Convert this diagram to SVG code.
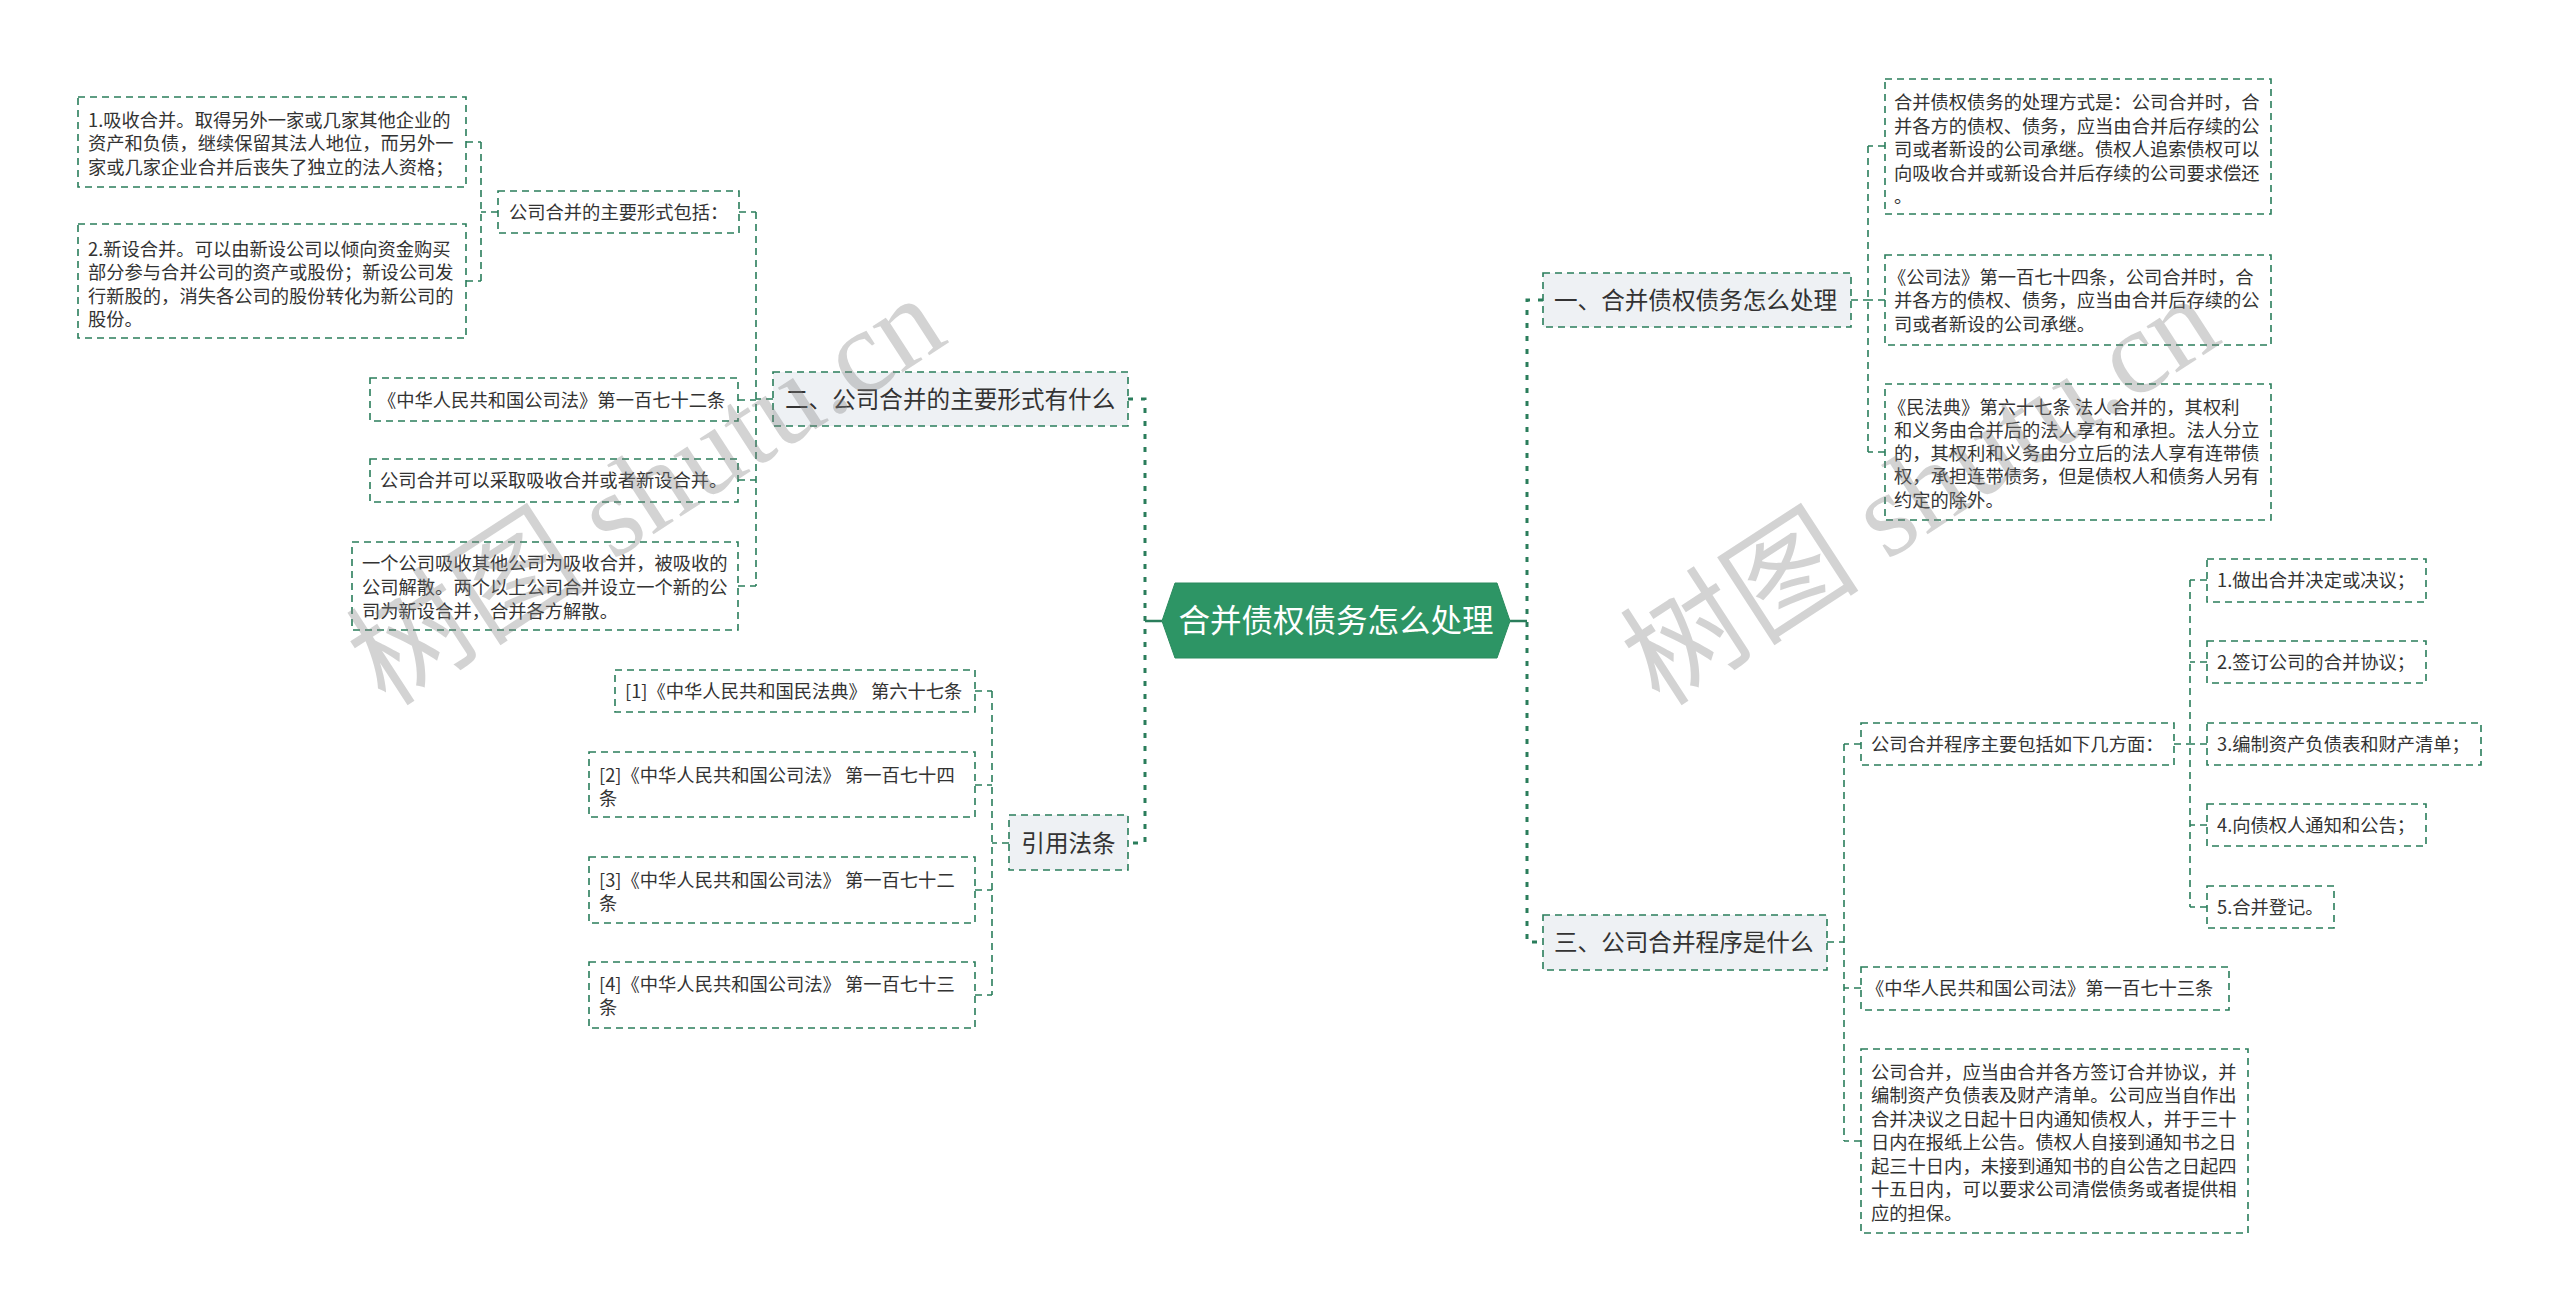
<svg xmlns="http://www.w3.org/2000/svg" width="2560" height="1312" viewBox="0 0 2560 1312">
<style>
.t{font-family:"Noto Sans CJK SC","Liberation Sans",sans-serif;fill:#333;font-size:18.3px}
.h{font-family:"Noto Sans CJK SC","Liberation Sans",sans-serif;fill:#333;font-size:23.6px}
.m{font-family:"Noto Sans CJK SC","Liberation Sans",sans-serif;fill:#fff;font-size:31.5px}
.leaf{fill:#fff;stroke:#2a7d5b;stroke-width:1.6;stroke-dasharray:7 5}
.lv1{fill:#eef1f4;stroke:#2a7d5b;stroke-width:1.6;stroke-dasharray:7 5}
.c{fill:none;stroke:#2a7d5b;stroke-width:1.6;stroke-dasharray:7 5}
.tr{fill:none;stroke:#2a7d5b;stroke-width:3;stroke-dasharray:5 8}
.wm{font-family:"Liberation Serif","Noto Sans CJK SC",serif;font-size:120px;fill:#808080;fill-opacity:0.35}
</style>
<rect width="2560" height="1312" fill="#fff"/>
<g id="connectors">
<path class="tr" d="M1128 399 H1145 V843 H1128"/>
<path d="M1145 621 H1162" stroke="#2a7d5b" stroke-width="2.5" fill="none"/>
<path class="tr" d="M1543 300 H1527 V942 H1543"/>
<path d="M1510 621 H1527" stroke="#2a7d5b" stroke-width="2.5" fill="none"/>
<path class="c" d="M773 399 H756 M756 212 V586 M739 212 H756 M738 400 H756 M738 480 H756 M738 586 H756"/>
<path class="c" d="M498 212 H481 M481 142 V281 M466 142 H481 M466 281 H481"/>
<path class="c" d="M1009 843 H992 M992 691 V995 M975 691 H992 M975 785 H992 M975 890 H992 M975 995 H992"/>
<path class="c" d="M1851 300 H1868 M1868 146 V452 M1885 146 H1868 M1885 300 H1868 M1885 452 H1868"/>
<path class="c" d="M1827 942 H1844 M1844 744 V1141 M1861 744 H1844 M1861 988 H1844 M1861 1141 H1844"/>
<path class="c" d="M2174 744 H2190 M2190 580 V907 M2207 580 H2190 M2207 662 H2190 M2207 744 H2190 M2207 825 H2190 M2207 907 H2190"/>
</g>
<g id="main">
<polygon points="1162,621 1175,583 1497,583 1510,621 1497,658 1175,658" fill="#2d9565" stroke="#2a8a5e" stroke-width="1"/>
<text class="m" x="1336" y="632" text-anchor="middle">合并债权债务怎么处理</text>
</g>
<g id="n2">
<rect class="lv1" x="773" y="372" width="355" height="54"/>
<text class="h" x="785" y="407.5">二、公司合并的主要形式有什么</text>
</g>
<g id="n2a">
<rect class="leaf" x="498" y="191" width="241" height="42"/>
<text class="t" x="509" y="218.5">公司合并的主要形式包括：</text>
</g>
<g id="n2a1">
<rect class="leaf" x="78" y="97" width="388" height="90"/>
<text class="t" x="88" y="126.5">1.吸收合并。取得另外一家或几家其他企业的</text>
<text class="t" x="88" y="150">资产和负债，继续保留其法人地位，而另外一</text>
<text class="t" x="88" y="173.5">家或几家企业合并后丧失了独立的法人资格；</text>
</g>
<g id="n2a2">
<rect class="leaf" x="78" y="224" width="388" height="114"/>
<text class="t" x="88" y="255.5">2.新设合并。可以由新设公司以倾向资金购买</text>
<text class="t" x="88" y="279">部分参与合并公司的资产或股份；新设公司发</text>
<text class="t" x="88" y="302.5">行新股的，消失各公司的股份转化为新公司的</text>
<text class="t" x="88" y="326">股份。</text>
</g>
<g id="n2b">
<rect class="leaf" x="370" y="378" width="368" height="43"/>
<text class="t" x="378" y="406.5">《中华人民共和国公司法》第一百七十二条</text>
</g>
<g id="n2c">
<rect class="leaf" x="370" y="459" width="368" height="43"/>
<text class="t" x="380" y="486.5">公司合并可以采取吸收合并或者新设合并。</text>
</g>
<g id="n2d">
<rect class="leaf" x="352" y="542" width="386" height="88"/>
<text class="t" x="362" y="569.5">一个公司吸收其他公司为吸收合并，被吸收的</text>
<text class="t" x="362" y="593.5">公司解散。两个以上公司合并设立一个新的公</text>
<text class="t" x="362" y="617.5">司为新设合并，合并各方解散。</text>
</g>
<g id="nref">
<rect class="lv1" x="1009" y="815" width="119" height="55"/>
<text class="h" x="1068.5" y="851.5" text-anchor="middle">引用法条</text>
</g>
<g id="ref1">
<rect class="leaf" x="615" y="670" width="360" height="42"/>
<text class="t" x="625" y="697.5">[1]《中华人民共和国民法典》 第六十七条</text>
</g>
<g id="ref2">
<rect class="leaf" x="589" y="752" width="386" height="65"/>
<text class="t" x="599" y="781.5">[2]《中华人民共和国公司法》 第一百七十四</text>
<text class="t" x="599" y="804.5">条</text>
</g>
<g id="ref3">
<rect class="leaf" x="589" y="857" width="386" height="66"/>
<text class="t" x="599" y="886.5">[3]《中华人民共和国公司法》 第一百七十二</text>
<text class="t" x="599" y="909.5">条</text>
</g>
<g id="ref4">
<rect class="leaf" x="589" y="962" width="386" height="66"/>
<text class="t" x="599" y="990.5">[4]《中华人民共和国公司法》 第一百七十三</text>
<text class="t" x="599" y="1014">条</text>
</g>
<g id="n1">
<rect class="lv1" x="1543" y="273" width="308" height="54"/>
<text class="h" x="1554" y="308.5">一、合并债权债务怎么处理</text>
</g>
<g id="n1a">
<rect class="leaf" x="1885" y="79" width="386" height="135"/>
<text class="t" x="1894" y="109">合并债权债务的处理方式是：公司合并时，合</text>
<text class="t" x="1894" y="132.5">并各方的债权、债务，应当由合并后存续的公</text>
<text class="t" x="1894" y="156">司或者新设的公司承继。债权人追索债权可以</text>
<text class="t" x="1894" y="179.5">向吸收合并或新设合并后存续的公司要求偿还</text>
<text class="t" x="1894" y="203">。</text>
</g>
<g id="n1b">
<rect class="leaf" x="1885" y="255" width="386" height="90"/>
<text class="t" x="1888" y="283.5">《公司法》第一百七十四条，公司合并时，合</text>
<text class="t" x="1894" y="307">并各方的债权、债务，应当由合并后存续的公</text>
<text class="t" x="1894" y="330.5">司或者新设的公司承继。</text>
</g>
<g id="n1c">
<rect class="leaf" x="1885" y="384" width="386" height="136"/>
<text class="t" x="1888" y="413.5">《民法典》第六十七条 法人合并的，其权利</text>
<text class="t" x="1894" y="436.5">和义务由合并后的法人享有和承担。法人分立</text>
<text class="t" x="1894" y="460">的，其权利和义务由分立后的法人享有连带债</text>
<text class="t" x="1894" y="483">权，承担连带债务，但是债权人和债务人另有</text>
<text class="t" x="1894" y="506.5">约定的除外。</text>
</g>
<g id="n3">
<rect class="lv1" x="1543" y="915" width="284" height="55"/>
<text class="h" x="1554" y="950.5">三、公司合并程序是什么</text>
</g>
<g id="n3a">
<rect class="leaf" x="1861" y="723" width="313" height="42"/>
<text class="t" x="1871" y="750.5">公司合并程序主要包括如下几方面：</text>
</g>
<g id="s1">
<rect class="leaf" x="2207" y="559" width="219" height="43"/>
<text class="t" x="2217" y="587">1.做出合并决定或决议；</text>
</g>
<g id="s2">
<rect class="leaf" x="2207" y="641" width="219" height="42"/>
<text class="t" x="2217" y="668.5">2.签订公司的合并协议；</text>
</g>
<g id="s3">
<rect class="leaf" x="2207" y="723" width="274" height="42"/>
<text class="t" x="2217" y="750.5">3.编制资产负债表和财产清单；</text>
</g>
<g id="s4">
<rect class="leaf" x="2207" y="804" width="219" height="42"/>
<text class="t" x="2217" y="831.5">4.向债权人通知和公告；</text>
</g>
<g id="s5">
<rect class="leaf" x="2207" y="886" width="127" height="42"/>
<text class="t" x="2217" y="913.5">5.合并登记。</text>
</g>
<g id="n3b">
<rect class="leaf" x="1861" y="967" width="368" height="43"/>
<text class="t" x="1866" y="995">《中华人民共和国公司法》第一百七十三条</text>
</g>
<g id="n3c">
<rect class="leaf" x="1861" y="1049" width="387" height="184"/>
<text class="t" x="1871" y="1078.5">公司合并，应当由合并各方签订合并协议，并</text>
<text class="t" x="1871" y="1102">编制资产负债表及财产清单。公司应当自作出</text>
<text class="t" x="1871" y="1125.5">合并决议之日起十日内通知债权人，并于三十</text>
<text class="t" x="1871" y="1149">日内在报纸上公告。债权人自接到通知书之日</text>
<text class="t" x="1871" y="1172.5">起三十日内，未接到通知书的自公告之日起四</text>
<text class="t" x="1871" y="1196">十五日内，可以要求公司清偿债务或者提供相</text>
<text class="t" x="1871" y="1219.5">应的担保。</text>
</g>
<g id="watermarks">
<text class="wm" transform="translate(386,708) rotate(-33)">树图 shutu.cn</text>
<text class="wm" transform="translate(1660,708) rotate(-33)">树图 shutu.cn</text>
</g>
</svg>
